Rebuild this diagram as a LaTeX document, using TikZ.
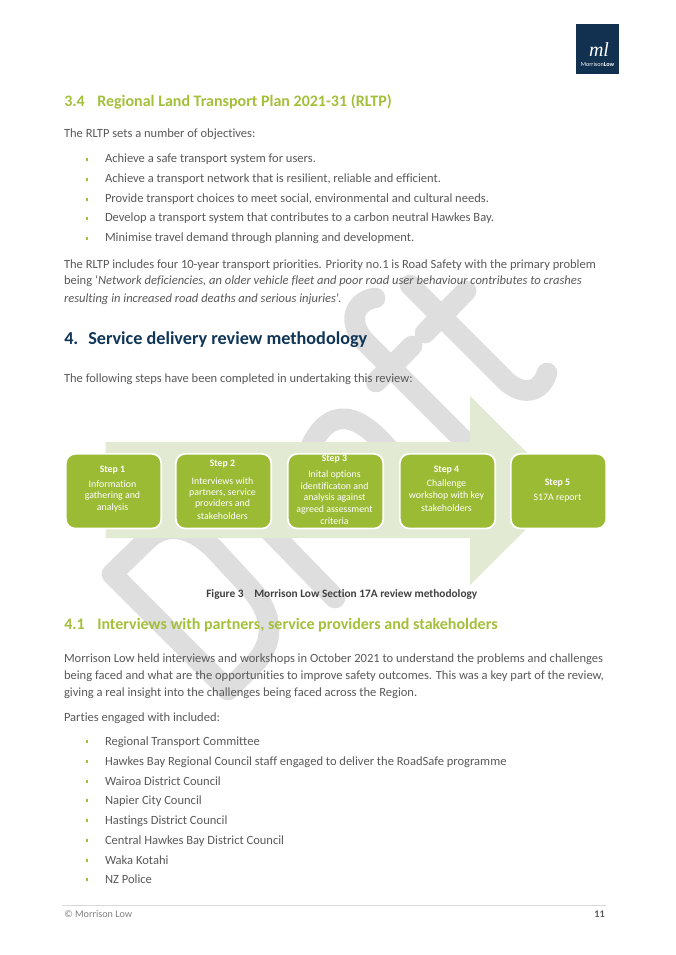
\documentclass[tikz,border=0pt]{standalone}
\usepackage{fontspec}
\setmainfont[Ligatures=NoCommon]{Carlito}
\newfontfamily\logofont{Liberation Serif}
\definecolor{bodytxt}{HTML}{595959}
\definecolor{leaf}{HTML}{A3C03A}
\definecolor{boxgreen}{HTML}{9BBB35}
\definecolor{navy}{HTML}{0F3557}
\definecolor{pale}{HTML}{E2EAD3}
\definecolor{wm}{HTML}{DEDEDE}
\definecolor{logoblue}{HTML}{12304F}
\tikzset{
  x=0.75pt,y=-0.75pt,
  wmark/.style={draw=wm,line width=15.5pt,line cap=round,line join=round},
  txt/.style={anchor=base west,inner sep=0pt,outer sep=0pt,text=bodytxt,font=\fontsize{9.4}{11}\selectfont},
  bul/.style={fill=leaf,draw=none,minimum size=2.2pt,inner sep=0pt},
  hgreen/.style={anchor=base west,inner sep=0pt,text=leaf,font=\fontsize{12}{14}\selectfont\bfseries},
  hnavy/.style={anchor=base west,inner sep=0pt,text=navy,font=\fontsize{13.65}{15}\selectfont\bfseries},
  stepbox/.style={draw=white,line width=1.3pt,fill=boxgreen,rounded corners=7pt,minimum width=71.5pt,minimum height=56pt,inner sep=0pt,anchor=north west},
  steptxt/.style={text=white,inner sep=0pt,font=\fontsize{7.4}{8}\selectfont},
  stephead/.style={steptxt,font=\fontsize{7.4}{8}\selectfont\bfseries},
  figcap/.style={anchor=base west,inner sep=0pt,text=black!75,font=\fontsize{8.5}{10}\selectfont\bfseries},
}
\begin{document}
\begin{tikzpicture}
\useasboundingbox[fill=white] (0,0) rectangle (675,955);
% watermark
\draw[wmark] (228,690) -- (112,574) -- (146,541) .. controls (165,522) and (190,525) .. (215,550) -- (250,588) .. controls (270,610) and (278,638) .. (255,663) -- cycle;
\draw[wmark] (230,490) -- (335,598);
\draw[wmark] (305,460) .. controls (320,418) and (345,400) .. (385,445) -- (420,480);
\draw[wmark] (375,298) .. controls (358,300) and (345,318) .. (364,340.5) -- (490,466.5);
\draw[wmark] (376,382) -- (412,346);
\draw[wmark] (410,285) -- (505,380) .. controls (520,395) and (540,395) .. (547,373);
\draw[wmark] (425,333) -- (466,291);
% logo
\node[fill=logoblue,minimum width=32.25pt,minimum height=37.5pt,inner sep=0pt,anchor=north west] (logo) at (576,24) {};
\node[inner sep=0pt,text=white,font=\logofont\itshape\fontsize{15}{15}\selectfont] (logoml) at (599,50) {ml};
\node[inner sep=0pt,text=white,font=\fontsize{4.6}{5}\selectfont] (logotxt) at (597.5,64) {Morrison\textbf{Low}};
% section 3.4
\node[hgreen] (h34n) at (64,107) {3.4};
\node[hgreen] (h34) at (97,107) {Regional Land Transport Plan 2021-31 (RLTP)};
\node[txt] (p1) at (64,138) {The RLTP sets a number of objectives:};
\foreach \yy/\tt [count=\i] in {
  163/Achieve a safe transport system for users.,
  183/{Achieve a transport network that is resilient, reliable and efficient.},
  203/{Provide transport choices to meet social, environmental and cultural needs.},
  222/Develop a transport system that contributes to a carbon neutral Hawkes Bay.,
  242/Minimise travel demand through planning and development.}{
  \node[bul] (ba\i) at (87,\yy-3.5) {};
  \node[txt] (ta\i) at (105,\yy) {\tt};
}
\node[txt] (p2a) at (64,268) {The RLTP includes four 10-year transport priorities. Priority no.1 is Road Safety with the primary problem};
\node[txt] (p2b) at (64,285) {being `\textit{Network deficiencies, an older vehicle fleet and poor road user behaviour contributes to crashes}};
\node[txt] (p2c) at (64,302) {\textit{resulting in increased road deaths and serious injuries}'.};
% section 4
\node[hnavy] (h4n) at (64,344) {4.};
\node[hnavy] (h4) at (88,344) {Service delivery review methodology};
\node[txt] (p3) at (64,382) {The following steps have been completed in undertaking this review:};
% arrow
\fill[pale] (105.5,442) -- (470,442) -- (470,396) -- (565,490.5) -- (470,585) -- (470,538) -- (105.5,538) -- cycle;
% steps
\node[stepbox] (s1) at (65,453) {};
\node[stepbox] (s2) at (175,453) {};
\node[stepbox] (s3) at (287,453) {};
\node[stepbox] (s4) at (399,453) {};
\node[stepbox] (s5) at (510,453) {};
\node[stephead] (s1h) at (112.5,470) {Step 1};
\node[steptxt] (s1a) at (112.5,484) {Information};
\node[steptxt] (s1b) at (112.5,496) {gathering and};
\node[steptxt] (s1c) at (112.5,508) {analysis};
\node[stephead] (s2h) at (222.5,464) {Step 2};
\node[steptxt] (s2a) at (222.5,481) {Interviews with};
\node[steptxt] (s2b) at (222.5,492.5) {partners, service};
\node[steptxt] (s2c) at (222.5,504) {providers and};
\node[steptxt] (s2d) at (222.5,516) {stakeholders};
\node[stephead] (s3h) at (334.5,459.5) {Step 3};
\node[steptxt] (s3a) at (334.5,475) {Inital options};
\node[steptxt] (s3b) at (334.5,486.5) {identificaton and};
\node[steptxt] (s3c) at (334.5,498) {analysis against};
\node[steptxt] (s3d) at (334.5,510) {agreed assessment};
\node[steptxt] (s3e) at (334.5,521) {criteria};
\node[stephead] (s4h) at (446.5,470) {Step 4};
\node[steptxt] (s4a) at (446.5,484) {Challenge};
\node[steptxt] (s4b) at (446.5,496) {workshop with key};
\node[steptxt] (s4c) at (446.5,508) {stakeholders};
\node[stephead] (s5h) at (557.5,483) {Step 5};
\node[steptxt] (s5a) at (557.5,498) {S17A report};
% caption
\node[figcap] (capn) at (206,597) {Figure 3};
\node[figcap] (capt) at (254,597) {Morrison Low Section 17A review methodology};
% section 4.1
\node[hgreen] (h41n) at (64,629) {4.1};
\node[hgreen] (h41) at (97,629) {Interviews with partners, service providers and stakeholders};
\node[txt] (p4a) at (64,662) {Morrison Low held interviews and workshops in October 2021 to understand the problems and challenges};
\node[txt] (p4b) at (64,679) {being faced and what are the opportunities to improve safety outcomes. This was a key part of the review,};
\node[txt] (p4c) at (64,696) {giving a real insight into the challenges being faced across the Region.};
\node[txt] (p5) at (64,721) {Parties engaged with included:};
\foreach \yy/\tt [count=\i] in {
  745/Regional Transport Committee,
  765/Hawkes Bay Regional Council staff engaged to deliver the RoadSafe programme,
  785/Wairoa District Council,
  804/Napier City Council,
  824/Hastings District Council,
  844/Central Hawkes Bay District Council,
  864/Waka Kotahi,
  883/NZ Police}{
  \node[bul] (bb\i) at (87,\yy-3.5) {};
  \node[txt] (tb\i) at (105,\yy) {\tt};
}
% footer
\coordinate (fl) at (62,905);
\coordinate (fr) at (606,905);
\draw[draw=black!15,line width=0.6pt] (fl) -- (fr);
\node[anchor=base west,inner sep=0pt,text=black!50,font=\fontsize{7.6}{9}\selectfont] (ftl) at (64,917) {© Morrison Low};
\node[anchor=base east,inner sep=0pt,text=bodytxt,font=\fontsize{7.6}{9}\selectfont\bfseries] (ftr) at (605,917) {11};
\end{tikzpicture}
\end{document}
